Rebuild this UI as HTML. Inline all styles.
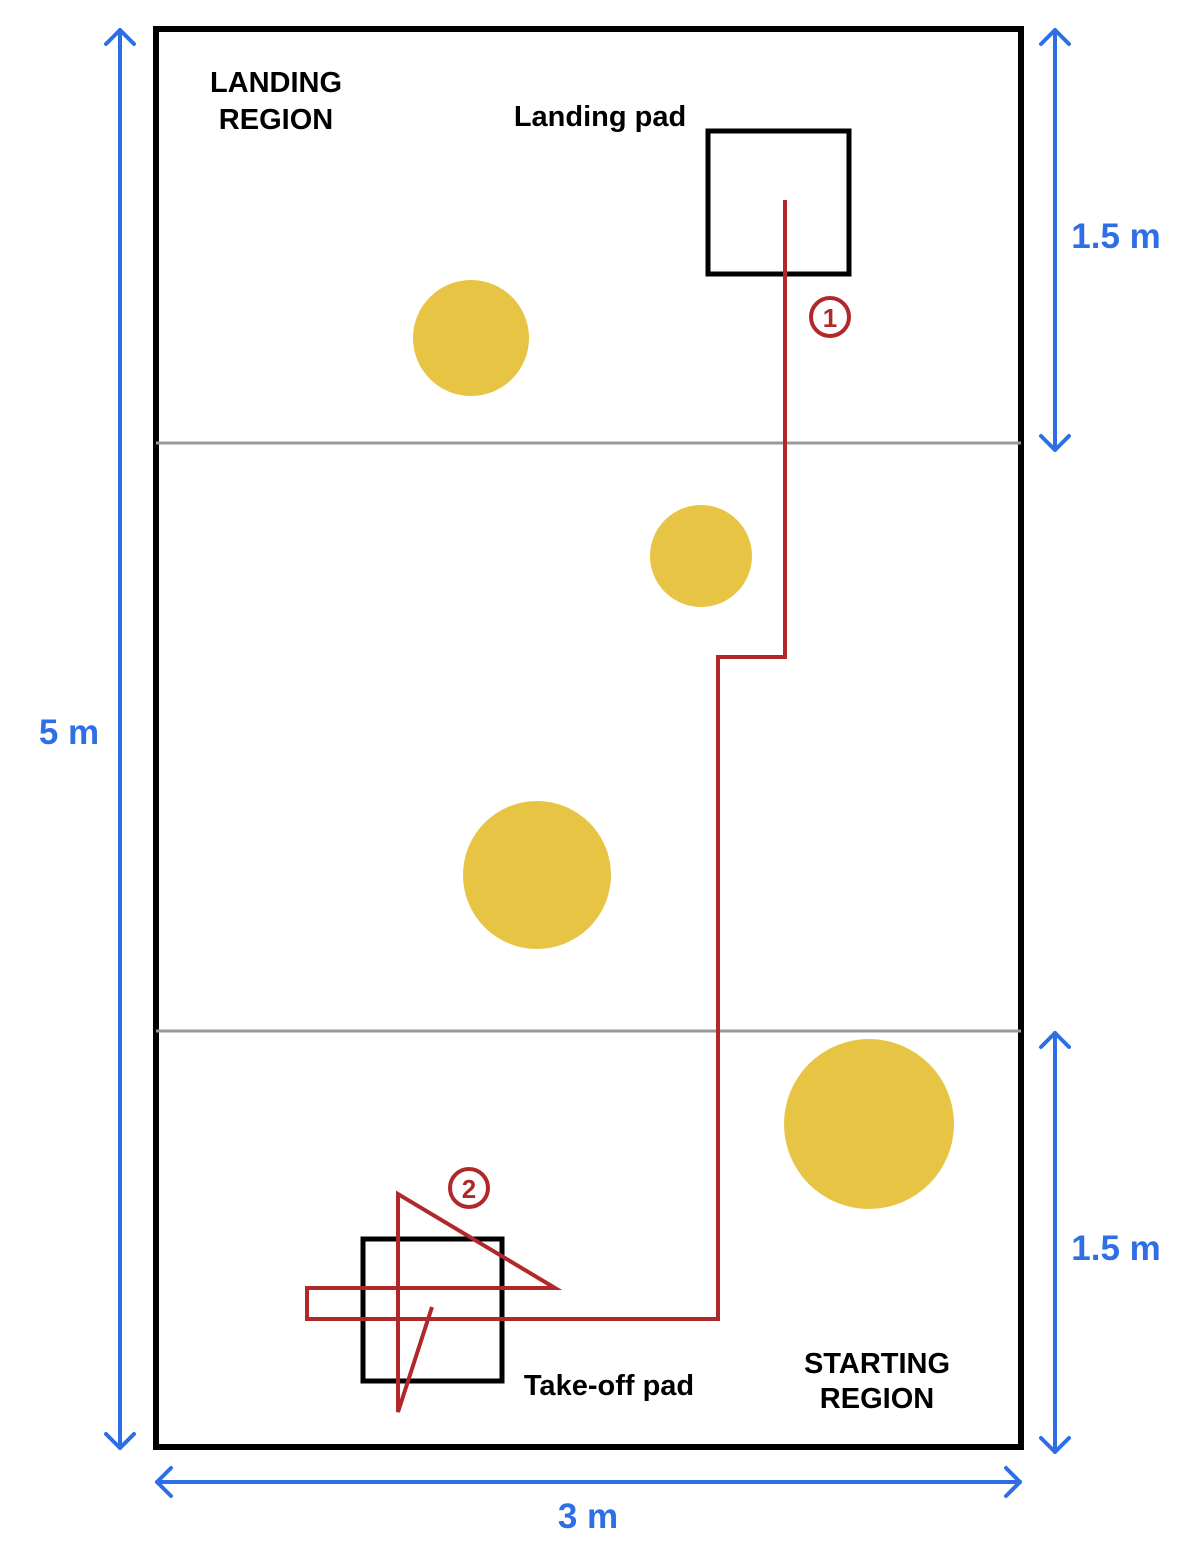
<!DOCTYPE html>
<html><head><style>body{margin:0;background:#fff}</style></head><body>
<svg width="1202" height="1548" viewBox="0 0 1202 1548" xmlns="http://www.w3.org/2000/svg" font-family="Liberation Sans, sans-serif" font-weight="bold">
<rect x="156" y="29" width="865" height="1418" fill="none" stroke="#000" stroke-width="6"/>
<line x1="156" y1="443" x2="1021" y2="443" stroke="#999" stroke-width="3"/>
<line x1="156" y1="1031" x2="1021" y2="1031" stroke="#999" stroke-width="3"/>
<g fill="#e7c444">
<circle cx="471" cy="338" r="58"/>
<circle cx="701" cy="556" r="51"/>
<circle cx="537" cy="875" r="74"/>
<circle cx="869" cy="1124" r="85"/>
</g>
<rect x="708" y="131" width="141" height="143" fill="none" stroke="#000" stroke-width="5"/>
<rect x="363" y="1239" width="139" height="142" fill="none" stroke="#000" stroke-width="5"/>
<polyline points="785,200 785,657 718,657 718,1319 307,1319 307,1288 555,1288 398,1194 398,1412 432,1307" fill="none" stroke="#b0282a" stroke-width="4" stroke-linejoin="miter"/>
<circle cx="830" cy="317" r="19" fill="none" stroke="#b0282a" stroke-width="4"/>
<text x="830" y="327" font-size="26" fill="#b0282a" text-anchor="middle">1</text>
<circle cx="469" cy="1188" r="19" fill="none" stroke="#b0282a" stroke-width="4"/>
<text x="469" y="1198" font-size="26" fill="#b0282a" text-anchor="middle">2</text>
<g stroke="#2f6fe6" stroke-width="4" fill="none" stroke-linecap="round" stroke-linejoin="round">
<line x1="120" y1="30" x2="120" y2="1448"/><polyline points="106,44 120,30 134,44"/><polyline points="106,1434 120,1448 134,1434"/>
<line x1="1055" y1="30" x2="1055" y2="450"/><polyline points="1041,44 1055,30 1069,44"/><polyline points="1041,436 1055,450 1069,436"/>
<line x1="1055" y1="1033" x2="1055" y2="1452"/><polyline points="1041,1047 1055,1033 1069,1047"/><polyline points="1041,1438 1055,1452 1069,1438"/>
<line x1="157" y1="1482" x2="1020" y2="1482"/><polyline points="171,1468 157,1482 171,1496"/><polyline points="1006,1468 1020,1482 1006,1496"/>
</g>
<g fill="#2f6fe6" font-size="35">
<text x="69" y="744" text-anchor="middle">5 m</text>
<text x="1116" y="248" text-anchor="middle">1.5 m</text>
<text x="1116" y="1260" text-anchor="middle">1.5 m</text>
<text x="588" y="1528" text-anchor="middle">3 m</text>
</g>
<g fill="#000" font-size="29" text-anchor="middle">
<text x="276" y="92">LANDING</text>
<text x="276" y="129">REGION</text>
<text x="600" y="126">Landing pad</text>
<text x="609" y="1395">Take-off pad</text>
<text x="877" y="1373">STARTING</text>
<text x="877" y="1408">REGION</text>
</g>
</svg>
</body></html>
